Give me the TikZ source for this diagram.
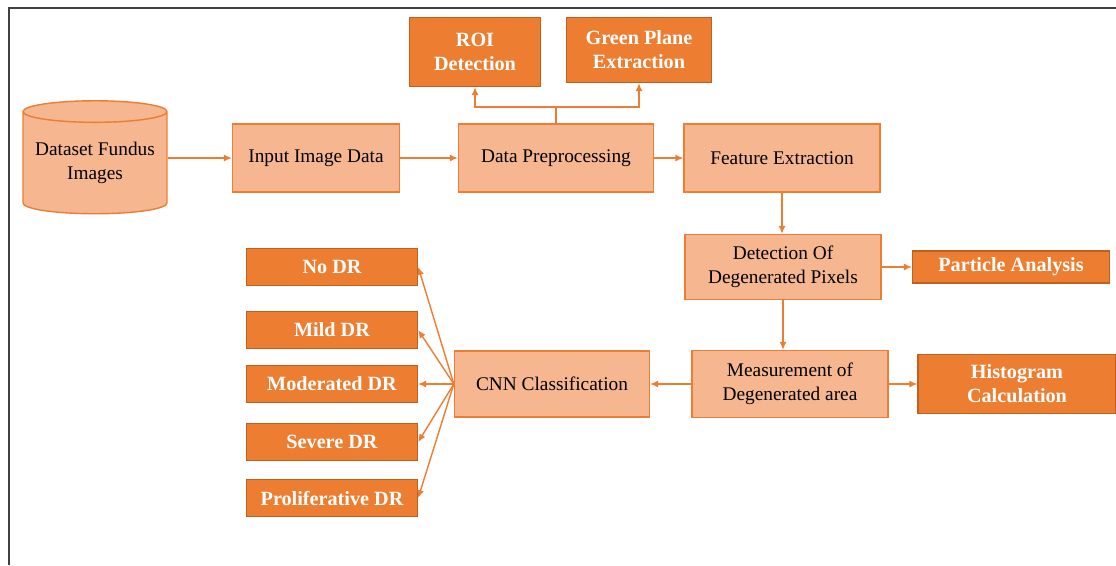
\documentclass[tikz,border=0pt]{standalone}
\usepackage{fontspec}
\setmainfont{Liberation Serif}
\usepackage{tikz}
\usetikzlibrary{shapes.geometric,arrows.meta}

\definecolor{lightorange}{HTML}{F6B690}
\definecolor{midorange}{HTML}{ED7D31}
\definecolor{darkorange}{HTML}{C0601F}

\tikzset{
    procbox/.style={draw=midorange, line width=0.8pt, fill=lightorange, align=center,
        inner sep=0pt, font=\fontsize{11}{13.6}\selectfont},
    outbox/.style={draw=darkorange, line width=0.8pt, fill=midorange, align=center,
        inner sep=0pt, text=white, font=\fontsize{11.5}{13.6}\selectfont\bfseries},
    arr/.style={draw=midorange, line width=0.8pt, -{Latex[length=4.5pt,width=4pt]}},
}

\begin{document}
\begin{tikzpicture}[x=0.02cm, y=-0.02cm]
    \useasboundingbox (0,0) rectangle (1116,565);
    % frame
    \draw [black!75, line width=1.2pt] (9,565) -- (9,8) -- (1116,8);

    % top row
    \node [cylinder, shape border rotate=90, aspect=0.18, draw=midorange, line width=0.8pt,
        fill=lightorange, cylinder uses custom fill, cylinder body fill=lightorange,
        cylinder end fill=lightorange!80!white, minimum width=2.88cm, minimum height=2.26cm,
        inner sep=0pt, align=center, font=\fontsize{11}{13.6}\selectfont]
        (data) at (95,163) {Dataset Fundus\\Images};
    \node [procbox, minimum width=3.34cm, minimum height=1.36cm] (inp) at (316,158) {Input Image Data};
    \node [procbox, minimum width=3.9cm, minimum height=1.36cm] (prep) at (556,158) {Data Preprocessing};
    \node [procbox, minimum width=3.92cm, minimum height=1.36cm] (feat) at (782,158) {Feature Extraction};

    % preprocessing steps
    \node [outbox, minimum width=2.62cm, minimum height=1.38cm] (roi) at (475,52) {ROI\\Detection};
    \node [outbox, minimum width=2.9cm, minimum height=1.3cm] (green) at (639,50) {Green Plane\\Extraction};
    \coordinate (fork) at (556,107);

    % right column
    \node [procbox, minimum width=3.92cm, minimum height=1.3cm] (detect) at (783,267) {Detection Of\\Degenerated Pixels};
    \node [outbox, minimum width=3.94cm, minimum height=0.64cm] (particle) at (1011,267) {Particle Analysis};
    \node [procbox, minimum width=3.92cm, minimum height=1.34cm] (meas) at (790,384) {Measurement of\\Degenerated area};
    \node [outbox, minimum width=3.96cm, minimum height=1.18cm] (hist) at (1017,384) {Histogram\\Calculation};
    \node [procbox, minimum width=3.9cm, minimum height=1.32cm] (cnn) at (552,384) {CNN Classification};

    % classes
    \node [outbox, minimum width=3.42cm, minimum height=0.74cm] (nodr) at (332,267) {No DR};
    \node [outbox, minimum width=3.42cm, minimum height=0.74cm] (mild) at (332,330) {Mild DR};
    \node [outbox, minimum width=3.42cm, minimum height=0.74cm] (moder) at (332,384) {Moderated DR};
    \node [outbox, minimum width=3.42cm, minimum height=0.74cm] (severe) at (332,442) {Severe DR};
    \node [outbox, minimum width=3.42cm, minimum height=0.74cm] (prolif) at (332,498) {Proliferative DR};

    % connectors
    \draw [arr] (data.east |- inp.west) -- (inp.west);
    \draw [arr] (inp) -- (prep);
    \draw [arr] (prep) -- (feat);
    \draw [draw=midorange, line width=0.8pt] (prep.north) -- (fork);
    \draw [arr] (fork) -| (roi.south);
    \draw [arr] (fork) -| (green.south);
    \draw [arr] (feat.south) -- (feat.south |- detect.north);
    \draw [arr] (detect) -- (particle);
    \draw [arr] (detect.south) -- (detect.south |- meas.north);
    \draw [arr] (meas) -- (hist);
    \draw [arr] (meas) -- (cnn);
    \foreach \cls in {nodr, mild, moder, severe, prolif}
        \draw [arr] (cnn.west) -- (\cls.east);
\end{tikzpicture}
\end{document}
